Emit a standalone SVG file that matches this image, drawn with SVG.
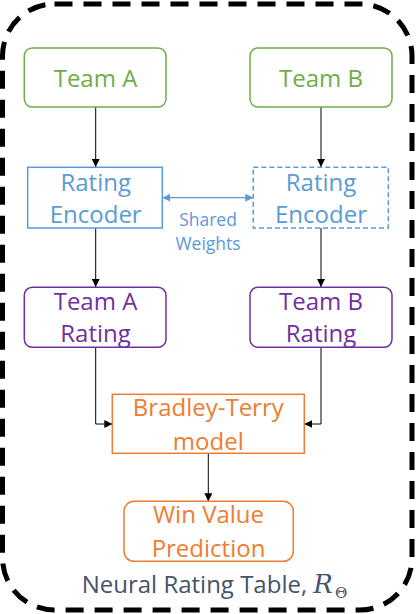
<svg xmlns="http://www.w3.org/2000/svg" width="416" height="614" viewBox="0 0 416 614">
<style>
text{font-family:"Open Sans","Liberation Sans",sans-serif;font-size:24px;text-anchor:middle}
.g{fill:none;stroke:#70AD47;stroke-width:1.5}
.b{fill:none;stroke:#5B9BD5;stroke-width:1.5}
.p{fill:none;stroke:#7030A0;stroke-width:1.5}
.o{fill:none;stroke:#ED7D31;stroke-width:1.5}
.tg{fill:#70AD47}.tb{fill:#5B9BD5}.tp{fill:#7030A0}.to{fill:#ED7D31}
.c{fill:none;stroke:#000;stroke-width:1}
</style>
<defs>
<marker id="ah" markerWidth="8" markerHeight="8" refX="8" refY="4" orient="auto" markerUnits="userSpaceOnUse"><path d="M0,0 L8,4 L0,8 Z" fill="#000"/></marker>
<marker id="bh" markerWidth="8" markerHeight="8" refX="8" refY="4" orient="auto-start-reverse" markerUnits="userSpaceOnUse"><path d="M0,0 L8,4 L0,8 Z" fill="#5B9BD5"/></marker>
</defs>
<rect id="frame" x="2.5" y="4" width="409.5" height="606" rx="52" fill="none" stroke="#000" stroke-width="5" stroke-dasharray="18 11"/>
<g id="connectors">
<path class="c" d="M95.7,107 V167" marker-end="url(#ah)"/>
<path class="c" d="M321,107 V167" marker-end="url(#ah)"/>
<path class="c" d="M95.7,228 V287" marker-end="url(#ah)"/>
<path class="c" d="M321,228 V287" marker-end="url(#ah)"/>
<path class="c" d="M95.7,347 V424 H112.3" marker-end="url(#ah)"/>
<path class="c" d="M321,347 V424 H304.3" marker-end="url(#ah)"/>
<path class="c" d="M208.3,453.3 V501.3" marker-end="url(#ah)"/>
<path d="M162.3,197.7 H253.3" fill="none" stroke="#5B9BD5" stroke-width="1.2" marker-start="url(#bh)" marker-end="url(#bh)"/>
</g>
<g id="teamA"><rect class="g" x="24.3" y="48" width="141.7" height="59" rx="8"/><text class="tg" x="95.5" y="87">Team A</text></g>
<g id="teamB"><rect class="g" x="250" y="48" width="142" height="59" rx="8"/><text class="tg" x="321" y="87">Team B</text></g>
<g id="encA"><rect class="b" x="27.7" y="167.3" width="134.6" height="60.7"/><text class="tb" x="95.7" y="190.5">Rating</text><text class="tb" x="95.7" y="222.5">Encoder</text></g>
<g id="encB"><rect class="b" x="253.3" y="167.3" width="135" height="60.7" stroke-dasharray="5 3"/><text class="tb" x="321" y="190.5">Rating</text><text class="tb" x="321" y="222.5">Encoder</text></g>
<g id="shared"><text class="tb" x="208" y="226" style="font-size:17.5px">Shared</text><text class="tb" x="208" y="250" style="font-size:17.5px">Weights</text></g>
<g id="ratingA"><rect class="p" x="24.3" y="287.3" width="141.7" height="60" rx="8"/><text class="tp" x="95.5" y="309.5">Team A</text><text class="tp" x="95.5" y="342">Rating</text></g>
<g id="ratingB"><rect class="p" x="250" y="287.3" width="142" height="60" rx="8"/><text class="tp" x="321" y="309.5">Team B</text><text class="tp" x="321" y="342">Rating</text></g>
<g id="bt"><rect class="o" x="112.3" y="394.3" width="192" height="59"/><text class="to" x="208.3" y="416">Bradley-Terry</text><text class="to" x="208.3" y="450">model</text></g>
<g id="win"><rect class="o" x="124" y="501.3" width="169.3" height="60" rx="10"/><text class="to" x="208.5" y="523">Win Value</text><text class="to" x="208.5" y="557">Prediction</text></g>
<g id="label"><text x="81.7" y="593.3" style="text-anchor:start;font-size:24px;fill:#44546A">Neural Rating Table, <tspan style="font-family:'DejaVu Serif','Liberation Serif',serif;font-style:italic;font-size:26px">R</tspan><tspan style="font-family:'DejaVu Serif','Liberation Serif',serif;font-size:15px" dx="2" dy="5">Θ</tspan></text></g>
</svg>
